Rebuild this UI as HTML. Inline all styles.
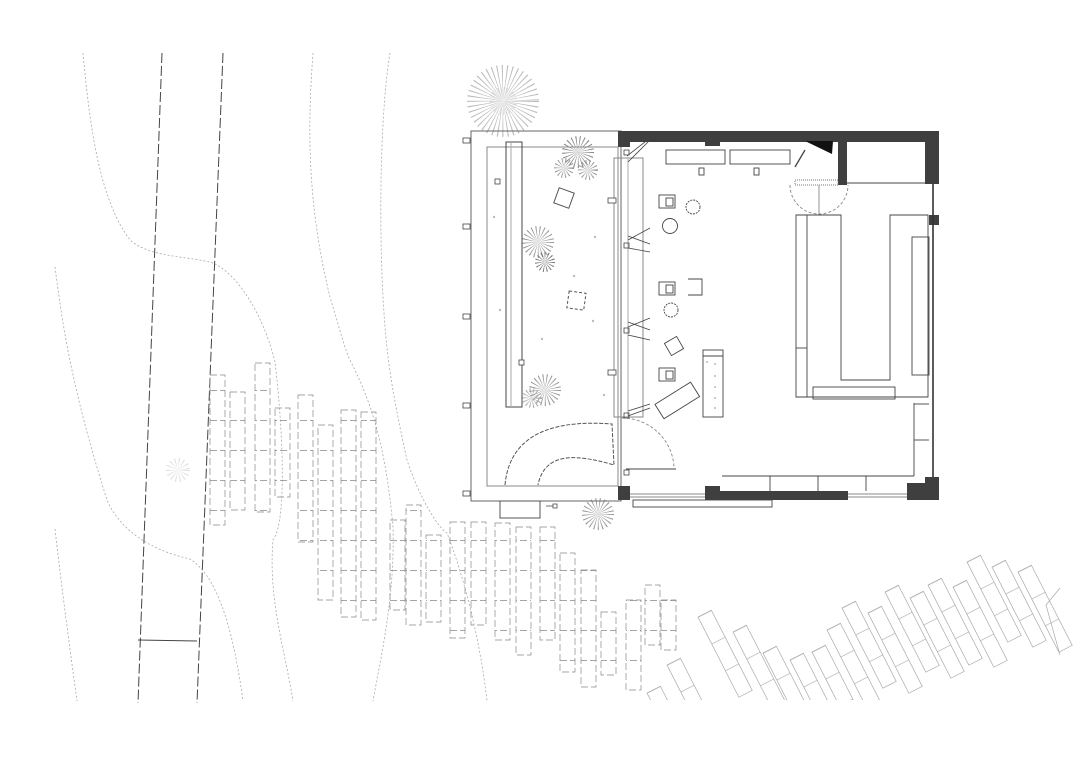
<!DOCTYPE html>
<html><head><meta charset="utf-8"><style>
html,body{margin:0;padding:0;background:#fff;}
svg{display:block;}
</style></head><body>
<svg width="1080" height="764" viewBox="0 0 1080 764" xmlns="http://www.w3.org/2000/svg">
<defs>
<pattern id="hl" patternUnits="userSpaceOnUse" width="40" height="30"><line x1="0" y1="0.5" x2="40" y2="0.5" stroke="#888" stroke-width="0.7" stroke-dasharray="7,3"/></pattern>
<pattern id="hl2" patternUnits="userSpaceOnUse" width="20" height="30"><line x1="0" y1="0.3" x2="20" y2="0.3" stroke="#aaa" stroke-width="0.7"/></pattern>
<clipPath id="cl"><rect x="0" y="0" width="1080" height="700"/></clipPath>
</defs>
<rect width="1080" height="764" fill="#fff"/>
<g fill="none" stroke="#aaa" stroke-width="0.8" stroke-dasharray="2,2">
<path d="M83,53 C90,130 100,200 130,240 C150,258 190,256 213,263 C240,275 265,320 275,362 C282,420 288,520 273,540 C268,600 285,650 293,701"/>
<path d="M313,53 C308,120 306,200 330,297 C340,330 345,350 350,360 C370,400 385,440 393,527 C395,600 380,660 373,701"/>
<path d="M390,53 C382,100 378,200 383,297 C386,350 390,383 407,460 C420,500 440,530 447,533 C465,580 480,640 487,701"/>
<path d="M55,267 C62,320 70,383 107,500 C120,530 150,550 190,559 C215,575 232,620 243,701"/>
<path d="M55,529 C62,590 70,650 77,701"/>
</g>
<g stroke="#444" stroke-width="1" stroke-dasharray="10,3">
<line x1="162" y1="53" x2="138" y2="703"/>
<line x1="223" y1="53" x2="197" y2="703"/>
</g>
<line x1="138" y1="640" x2="197" y2="641" stroke="#444" stroke-width="1"/>

<g fill="url(#hl)" stroke="#888" stroke-width="0.7" stroke-dasharray="7,3">
<rect x="210" y="375" width="15" height="150"/>
<rect x="230" y="392" width="15" height="118"/>
<rect x="255" y="363" width="15" height="149"/>
<rect x="275" y="408" width="15" height="89"/>
<rect x="298" y="395" width="15" height="147"/>
<rect x="318" y="425" width="15" height="175"/>
<rect x="341" y="410" width="15" height="207"/>
<rect x="361" y="412" width="15" height="208"/>
<rect x="390" y="520" width="15" height="90"/>
<rect x="406" y="505" width="15" height="120"/>
<rect x="426" y="535" width="15" height="87"/>
<rect x="450" y="522" width="15" height="116"/>
<rect x="471" y="522" width="15" height="103"/>
<rect x="495" y="523" width="15" height="117"/>
<rect x="516" y="527" width="15" height="128"/>
<rect x="540" y="527" width="15" height="113"/>
<rect x="560" y="553" width="15" height="119"/>
<rect x="581" y="570" width="15" height="117"/>
<rect x="601" y="612" width="15" height="63"/>
<rect x="626" y="600" width="15" height="90"/>
<rect x="645" y="585" width="15" height="60"/>
<rect x="661" y="600" width="15" height="50"/>
</g>

<g clip-path="url(#cl)" fill="url(#hl2)" stroke="#aaa" stroke-width="0.7">
<rect width="15" height="90" transform="translate(647,693) rotate(-27)"/>
<rect width="15" height="90" transform="translate(667,665) rotate(-27)"/>
<rect width="15" height="90" transform="translate(698,617) rotate(-27)"/>
<rect width="15" height="90" transform="translate(733,632) rotate(-27)"/>
<rect width="15" height="90" transform="translate(763,653) rotate(-27)"/>
<rect width="15" height="90" transform="translate(790,660) rotate(-27)"/>
<rect width="15" height="90" transform="translate(812,652) rotate(-27)"/>
<rect width="15" height="90" transform="translate(827,630) rotate(-27)"/>
<rect width="15" height="90" transform="translate(842,608) rotate(-27)"/>
<rect width="15" height="90" transform="translate(868,613) rotate(-27)"/>
<rect width="15" height="90" transform="translate(885,592) rotate(-27)"/>
<rect width="15" height="90" transform="translate(910,598) rotate(-27)"/>
<rect width="15" height="90" transform="translate(928,585) rotate(-27)"/>
<rect width="15" height="90" transform="translate(953,587) rotate(-27)"/>
<rect width="15" height="90" transform="translate(967,562) rotate(-27)"/>
<rect width="15" height="90" transform="translate(992,567) rotate(-27)"/>
<rect width="15" height="90" transform="translate(1018,572) rotate(-27)"/>
<path d="M1060,588 L1046,605 L1060,655" fill="none"/>
</g>

<g fill="none">
<circle cx="503" cy="101" r="18" stroke="#bbb" stroke-width="36" stroke-dasharray="0.6,2.2"/>
<circle cx="503" cy="101" r="8" stroke="#ccc" stroke-width="12" stroke-dasharray="0.5,1.5"/>
<circle cx="578" cy="152" r="8" stroke="#888" stroke-width="16" stroke-dasharray="0.6,1.8"/>
<circle cx="564" cy="168" r="5" stroke="#999" stroke-width="10" stroke-dasharray="0.6,1.6"/>
<circle cx="588" cy="170" r="5" stroke="#999" stroke-width="10" stroke-dasharray="0.6,1.6"/>
<circle cx="538" cy="242" r="8" stroke="#999" stroke-width="16" stroke-dasharray="0.6,1.8"/>
<circle cx="545" cy="262" r="5" stroke="#777" stroke-width="10" stroke-dasharray="0.6,1.5"/>
<circle cx="545" cy="390" r="8" stroke="#999" stroke-width="16" stroke-dasharray="0.6,1.8"/>
<circle cx="532" cy="398" r="5" stroke="#aaa" stroke-width="10" stroke-dasharray="0.6,1.6"/>
<circle cx="598" cy="514" r="8" stroke="#999" stroke-width="16" stroke-dasharray="0.6,1.8"/>
<circle cx="178" cy="470" r="6" stroke="#ddd" stroke-width="12" stroke-dasharray="0.6,2"/>
</g>

<g fill="none" stroke="#555" stroke-width="1">
<rect x="471" y="131" width="150" height="370" stroke="#666"/>
<rect x="487" y="147" width="131" height="339" stroke="#888"/>
<rect x="506" y="142" width="16" height="265" stroke="#444"/>
<line x1="511" y1="142" x2="511" y2="407" stroke="#aaa"/>
<rect x="500" y="501" width="40" height="17"/>
<rect x="614" y="158" width="29" height="259" stroke="#888"/>
<line x1="628" y1="158" x2="628" y2="417" stroke="#aaa"/>
<path d="M505,485 C510,430 560,420 612,424 L614,465 C580,455 545,450 538,485" stroke="#555" stroke-dasharray="4,1.5"/>
<rect x="556" y="190" width="16" height="16" transform="rotate(20 564 198)"/>
<rect x="568" y="292" width="17" height="17" transform="rotate(8 576 300)" stroke-dasharray="3,2"/>
</g>
<g fill="#fff" stroke="#444" stroke-width="0.8">
<rect x="463" y="138" width="7" height="5"/><rect x="463" y="224" width="7" height="5"/><rect x="463" y="314" width="7" height="5"/><rect x="463" y="403" width="7" height="5"/><rect x="463" y="491" width="7" height="5"/>
<rect x="495" y="179" width="5" height="5"/><rect x="519" y="360" width="5" height="5"/>
<rect x="608" y="198" width="8" height="5"/><rect x="608" y="370" width="8" height="5"/>
</g>
<g fill="#bbb"><circle cx="494" cy="217" r="1.2"/><circle cx="500" cy="310" r="1.2"/><circle cx="574" cy="276" r="1.2"/><circle cx="542" cy="339" r="1.2"/><circle cx="593" cy="321" r="1.2"/><circle cx="595" cy="237" r="1.2"/><circle cx="604" cy="395" r="1.2"/></g>

<g fill="#3f3f3f">
<rect x="618" y="131" width="321" height="11"/>
<rect x="618" y="131" width="12" height="16"/>
<rect x="705" y="131" width="15" height="15"/>
<rect x="925" y="131" width="14" height="53"/>
<rect x="838" y="131" width="9" height="54"/>
<rect x="929" y="215" width="10" height="10"/>
<rect x="618" y="486" width="12" height="14"/>
<rect x="705" y="486" width="15" height="14"/>
<rect x="720" y="491" width="128" height="9"/>
<rect x="907" y="483" width="20" height="17"/>
<rect x="925" y="477" width="14" height="23"/>
<path d="M805,141 L833,141 L832,154 Z" fill="#111"/>
</g>
<g fill="none" stroke="#444" stroke-width="0.9">
<line x1="933" y1="184" x2="933" y2="477" stroke-width="1.6" stroke="#333"/>
<line x1="847" y1="183" x2="925" y2="183"/>
<rect x="633" y="500" width="139" height="7"/>
<line x1="630" y1="494" x2="705" y2="494" stroke="#888"/><line x1="630" y1="497" x2="705" y2="497" stroke="#888"/>
<line x1="848" y1="494" x2="907" y2="494" stroke="#888"/><line x1="848" y1="497" x2="907" y2="497" stroke="#888"/>
<rect x="666" y="150" width="59" height="14"/>
<rect x="730" y="150" width="60" height="14"/>
<line x1="795" y1="167" x2="805" y2="150" stroke-width="1.3"/>
<rect x="795" y="180" width="43" height="5" stroke="#777" stroke-dasharray="1,1"/>
<path d="M790,185 A29,29 0 0 0 848,185" stroke="#888" stroke-dasharray="3,2"/>
<line x1="819" y1="185" x2="819" y2="215" stroke="#888"/>
<path d="M796,215 L841,215 L841,380 L890,380 L890,215 L928,215 L928,397 L796,397 Z"/>
<line x1="807" y1="215" x2="807" y2="397"/>
<line x1="796" y1="348" x2="807" y2="348"/>
<rect x="813" y="387" width="82" height="12"/>
<rect x="912" y="237" width="17" height="138"/>
<line x1="722" y1="476" x2="914" y2="476"/>
<line x1="914" y1="403" x2="914" y2="476"/>
<line x1="770" y1="476" x2="770" y2="491"/><line x1="818" y1="476" x2="818" y2="491"/><line x1="866" y1="476" x2="866" y2="491"/>
<line x1="914" y1="404" x2="929" y2="404"/><line x1="914" y1="440" x2="929" y2="440"/>
<rect x="659" y="195" width="16" height="13"/><rect x="666" y="198" width="7" height="8"/>
<rect x="659" y="282" width="16" height="13"/><rect x="666" y="285" width="7" height="8"/>
<rect x="659" y="368" width="16" height="13"/><rect x="666" y="371" width="7" height="8"/>
<path d="M688,279 L702,279 L702,295 L688,295"/>
<circle cx="693" cy="207" r="7" stroke-dasharray="2,1"/>
<circle cx="670" cy="226" r="7.5"/>
<circle cx="671" cy="310" r="7" stroke-dasharray="2,1"/>
<rect x="667" y="339" width="14" height="14" transform="rotate(-30 674 346)"/>
<rect x="656" y="392" width="42" height="17" transform="rotate(-32 677 400)"/>
<rect x="703" y="350" width="20" height="67"/>
<line x1="703" y1="356" x2="723" y2="356"/>
<path d="M622,418 A52,52 0 0 1 674,467" stroke="#888" stroke-dasharray="3,2"/>
<line x1="626" y1="469" x2="676" y2="469"/>
<rect x="699" y="168" width="5" height="7"/><rect x="754" y="168" width="5" height="7"/>
</g>
<g fill="#bbb"><circle cx="707" cy="362" r="1"/><circle cx="715" cy="364" r="1"/><circle cx="715" cy="376" r="1"/><circle cx="715" cy="387" r="1"/><circle cx="715" cy="398" r="1"/><circle cx="715" cy="408" r="1"/></g>
<g stroke="#444" stroke-width="0.8" fill="none">
<path d="M627,156 L650,138 M628,162 L650,140"/>
<path d="M628,240 L650,228 M628,248 L650,252 M628,236 L650,244"/>
<path d="M628,327 L650,318 M628,335 L650,340 M628,322 L650,330"/>
<path d="M628,411 L650,404 M628,416 L650,408"/>
<rect x="624" y="150" width="5" height="5"/><rect x="624" y="243" width="5" height="5"/><rect x="624" y="328" width="5" height="5"/><rect x="624" y="413" width="5" height="5"/><rect x="624" y="470" width="5" height="5"/>
<path d="M546,506 L553,506 M553,504 L557,504 L557,508 L553,508 Z"/>
</g>
</svg>
</body></html>
